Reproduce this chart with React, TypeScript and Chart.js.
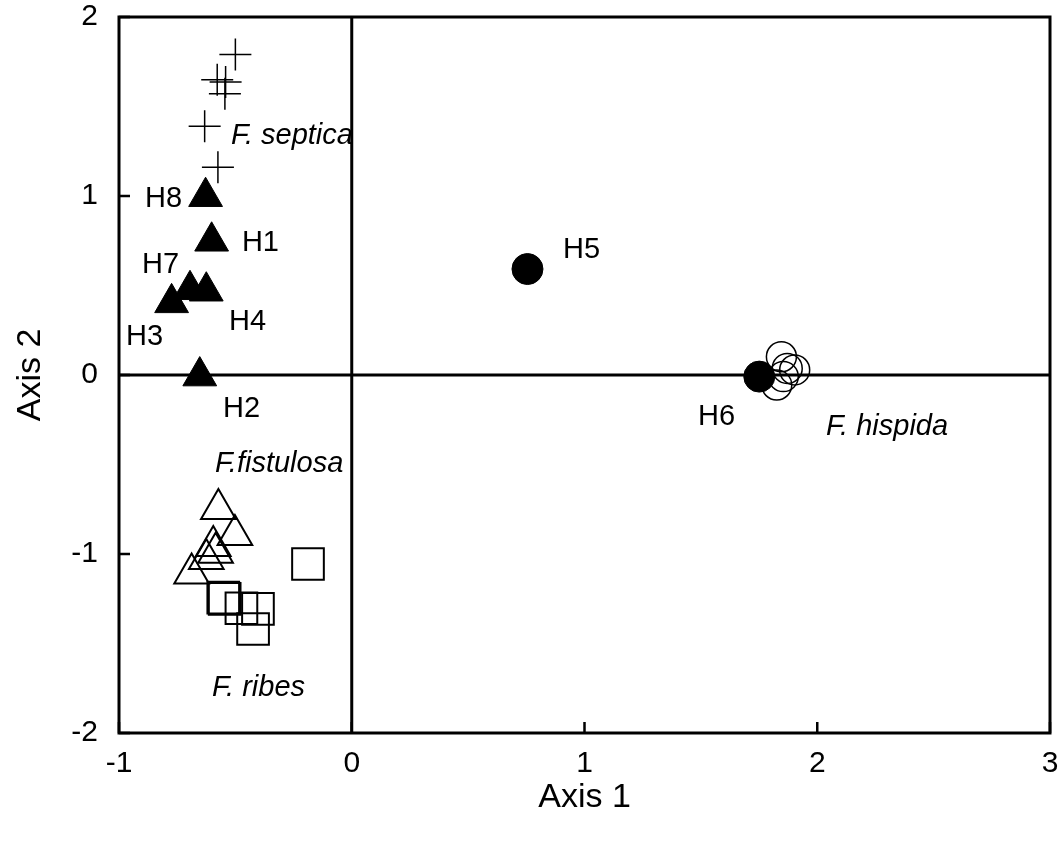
import React, { useEffect, useRef } from "react";
import { Chart, registerables } from "chart.js";

Chart.register(...registerables);

// ---- Data (ordination scores) ----
const septicaX = [-0.5, -0.578, -0.542, -0.545, -0.632, -0.575];
const septicaY = [1.79, 1.65, 1.637, 1.571, 1.39, 1.16];

// Filled triangles H8, H1, H7, H4, H3, H2
const hostTriX = [-0.628, -0.602, -0.695, -0.625, -0.774, -0.653];
const hostTriY = [0.996, 0.747, 0.476, 0.468, 0.403, -0.006];

const fistulosaX = [-0.573, -0.502, -0.595, -0.585, -0.625, -0.688];
const fistulosaY = [-0.748, -0.894, -0.956, -0.993, -1.028, -1.109];

const ribesX = [-0.188, -0.552, -0.546, -0.474, -0.403, -0.424];
const ribesY = [-1.056, -1.244, -1.251, -1.303, -1.307, -1.419];

const hispidaX = [1.846, 1.871, 1.903, 1.826, 1.854];
const hispidaY = [0.102, 0.037, 0.028, -0.056, -0.009];

// Filled circles H5, H6
const hostCircX = [0.755, 1.751];
const hostCircY = [0.592, -0.009];

const xTicks = [-1, 0, 1, 2, 3];
const yTicks = [-2, -1, 0, 1, 2];

const labelText = ["F. septica", "H8", "H1", "H7", "H4", "H3", "H2", "H5", "H6", "F. hispida", "F.fistulosa", "F. ribes"];
const labelX = [-0.519, -0.888, -0.472, -0.901, -0.527, -0.97, -0.553, 0.908, 1.488, 2.038, -0.588, -0.6];
const labelY = [1.291, 0.939, 0.693, 0.57, 0.251, 0.168, -0.235, 0.654, -0.279, -0.335, -0.542, -1.793];
const labelItalic = [true, false, false, false, false, false, false, false, false, true, true, true];

const FONT = '"Liberation Sans", Arial, Helvetica, sans-serif';

const zip = (xs: number[], ys: number[]) => xs.map((x, i) => ({ x, y: ys[i] }));

const framePlugin = {
  id: "frameAndLabels",
  beforeDatasetsDraw(chart: any) {
    const { ctx, chartArea: a, scales } = chart;
    const xs = scales.x;
    const ys = scales.y;
    ctx.save();
    ctx.strokeStyle = "#000";
    ctx.lineWidth = 3;
    const x0 = xs.getPixelForValue(0);
    const y0 = ys.getPixelForValue(0);
    ctx.beginPath();
    ctx.moveTo(x0, a.top);
    ctx.lineTo(x0, a.bottom);
    ctx.moveTo(a.left, y0);
    ctx.lineTo(a.right, y0);
    ctx.stroke();
    ctx.strokeRect(a.left, a.top, a.right - a.left, a.bottom - a.top);
    ctx.lineWidth = 2.5;
    ctx.beginPath();
    for (const v of xTicks) {
      const px = xs.getPixelForValue(v);
      ctx.moveTo(px, a.bottom);
      ctx.lineTo(px, a.bottom - 11);
    }
    for (const v of yTicks) {
      const py = ys.getPixelForValue(v);
      ctx.moveTo(a.left, py);
      ctx.lineTo(a.left + 11, py);
    }
    ctx.stroke();
    ctx.restore();
  },
  afterDatasetsDraw(chart: any) {
    const { ctx, scales } = chart;
    ctx.save();
    ctx.fillStyle = "#000";
    ctx.textAlign = "left";
    ctx.textBaseline = "alphabetic";
    labelText.forEach((t, i) => {
      ctx.font = `${labelItalic[i] ? "italic " : ""}29px ${FONT}`;
      ctx.fillText(t, scales.x.getPixelForValue(labelX[i]), scales.y.getPixelForValue(labelY[i]));
    });
    ctx.restore();
  },
};

export default function App() {
  const canvasRef = useRef<HTMLCanvasElement | null>(null);

  useEffect(() => {
    const canvas = canvasRef.current;
    if (!canvas) return;
    const chart = new Chart(canvas, {
      type: "scatter",
      data: {
        datasets: [
          {
            label: "F. septica",
            data: zip(septicaX, septicaY),
            pointStyle: "cross",
            pointRadius: 16,
            borderColor: "#000",
            borderWidth: 1.5,
            backgroundColor: "transparent",
          },
          {
            label: "F. fistulosa",
            data: zip(fistulosaX, fistulosaY),
            pointStyle: "triangle",
            pointRadius: 20,
            borderColor: "#000",
            borderWidth: 2,
            backgroundColor: "transparent",
          },
          {
            label: "F. ribes",
            data: zip(ribesX, ribesY),
            pointStyle: "rect",
            pointRadius: 22.4,
            borderColor: "#000",
            borderWidth: 2,
            backgroundColor: "transparent",
          },
          {
            label: "F. hispida",
            data: zip(hispidaX, hispidaY),
            pointStyle: "circle",
            pointRadius: 15,
            borderColor: "#000",
            borderWidth: 1.5,
            backgroundColor: "transparent",
          },
          {
            label: "Hosts (triangles)",
            data: zip(hostTriX, hostTriY),
            pointStyle: "triangle",
            pointRadius: 19.5,
            borderColor: "#000",
            borderWidth: 1,
            backgroundColor: "#000",
          },
          {
            label: "Hosts (circles)",
            data: zip(hostCircX, hostCircY),
            pointStyle: "circle",
            pointRadius: 15.5,
            borderColor: "#000",
            borderWidth: 1,
            backgroundColor: "#000",
          },
        ],
      },
      options: {
        animation: false,
        responsive: true,
        maintainAspectRatio: false,
        events: [],
        layout: { autoPadding: false, padding: { top: 17, right: 11, left: 0, bottom: 0 } },
        plugins: {
          legend: { display: false },
          tooltip: { enabled: false },
        },
        scales: {
          x: {
            type: "linear",
            min: -1,
            max: 3,
            afterBuildTicks: (s: any) => {
              s.ticks = xTicks.map((v) => ({ value: v }));
            },
            afterFit: (s: any) => {
              s.height = 110;
              s.paddingLeft = 0;
              s.paddingRight = 0;
            },
            ticks: {
              color: "#000",
              padding: 13,
              font: { family: FONT, size: 30 },
              maxRotation: 0,
            },
            grid: { display: false, drawTicks: false },
            border: { display: false },
            title: {
              display: true,
              text: "Axis 1",
              color: "#000",
              font: { family: FONT, size: 34 },
              padding: { top: 0, bottom: 25 },
            },
          },
          y: {
            type: "linear",
            min: -2,
            max: 2,
            afterBuildTicks: (s: any) => {
              s.ticks = yTicks.map((v) => ({ value: v }));
            },
            afterFit: (s: any) => {
              s.width = 119;
              s.paddingTop = 0;
              s.paddingBottom = 0;
            },
            ticks: {
              color: "#000",
              padding: 21,
              font: { family: FONT, size: 30 },
            },
            grid: { display: false, drawTicks: false },
            border: { display: false },
            title: {
              display: true,
              text: "Axis 2",
              color: "#000",
              font: { family: FONT, size: 34 },
              padding: { top: 10, bottom: 0 },
            },
          },
        },
      },
      plugins: [framePlugin],
    } as any);
    return () => chart.destroy();
  }, []);

  return (
    <div style={{ position: "fixed", left: 0, top: 0, width: 1061, height: 843, background: "#fff" }}>
      <canvas ref={canvasRef} />
    </div>
  );
}
